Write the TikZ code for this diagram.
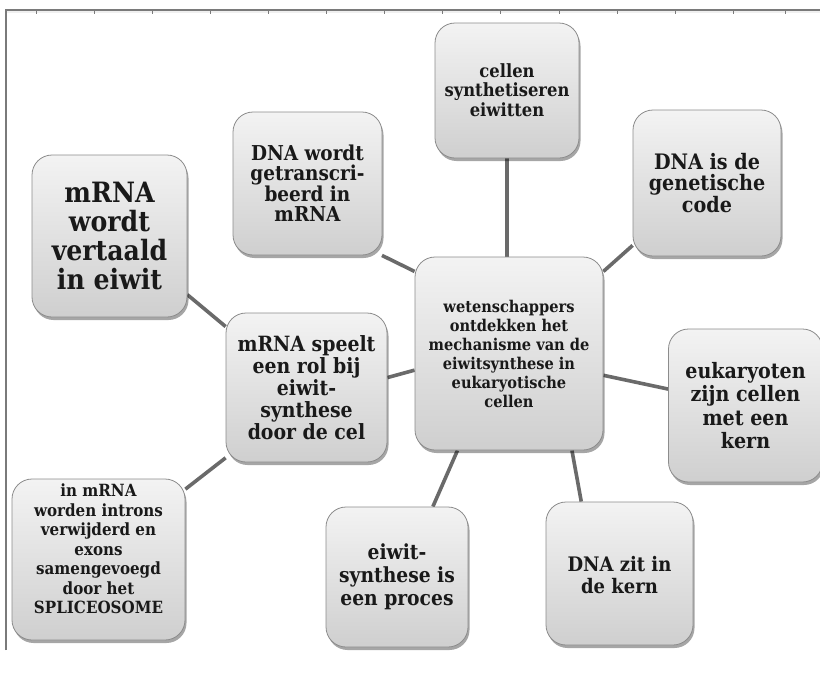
\documentclass[tikz,border=0pt]{standalone}
\usepackage{fontspec}
\setmainfont{DejaVu Serif Condensed}
\usetikzlibrary{shadows,backgrounds}
\definecolor{linegray}{HTML}{6A6A6A}
\definecolor{framegray}{HTML}{7A7A7A}
\definecolor{boxtop}{HTML}{F3F3F3}
\definecolor{boxbot}{HTML}{CFCFCF}
\definecolor{boxedge}{HTML}{8C8C8C}
\newcommand{\fs}[2]{\bfseries\fontsize{#1}{#2}\selectfont}
\newcommand{\shiftedtext}[2]{\raisebox{#1}[\height][\depth]{\begin{tabular}{@{}c@{}}#2\end{tabular}}}
\tikzset{
  bubble/.style={draw=boxedge, line width=0.8pt, rounded corners=20pt,
    top color=boxtop, bottom color=boxbot, align=center, inner sep=2pt,
    text=black!90,
    drop shadow={shadow xshift=1.5pt, shadow yshift=-3pt, opacity=0.35, fill=black}},
  conn/.style={draw=linegray, line width=3.6pt},
  tick/.style={draw=framegray, line width=0.8pt}
}
\begin{document}
\begin{tikzpicture}[x=1pt,y=-1pt]
\useasboundingbox (0,0) rectangle (820,673);
% nodes
\node[bubble, minimum width=188pt, minimum height=193pt, font=\fs{16.2}{19}] (c) at (509,353.5)
  {wetenschappers\\ontdekken het\\mechanisme van de\\eiwitsynthese in\\eukaryotische\\cellen};
\node[bubble, minimum width=144pt, minimum height=135pt, font=\fs{18.2}{18.5}] (cel) at (507,90.5)
  {\shiftedtext{-2pt}{cellen\\synthetiseren\\eiwitten}};
\node[bubble, minimum width=149pt, minimum height=143pt, font=\fs{20.5}{20}] (dnaw) at (307.5,183.5)
  {DNA wordt\\getranscri-\\beerd in\\mRNA};
\node[bubble, minimum width=148pt, minimum height=146pt, font=\fs{21.3}{21.7}] (dnais) at (707,183)
  {DNA is de\\genetische\\code};
\node[bubble, minimum width=155pt, minimum height=162pt, font=\fs{28}{29}] (mrnav) at (109.5,236)
  {mRNA\\wordt\\vertaald\\in eiwit};
\node[bubble, minimum width=161pt, minimum height=149pt, font=\fs{21}{22}] (sp) at (306.5,387.5)
  {mRNA speelt\\een rol bij\\eiwit-\\synthese\\door de cel};
\node[bubble, minimum width=154pt, minimum height=153pt, font=\fs{21.2}{23.5}] (euk) at (745.5,405.5)
  {eukaryoten\\zijn cellen\\met een\\kern};
\node[bubble, minimum width=173pt, minimum height=161pt, font=\fs{16.8}{19.5}] (intr) at (98.5,559.5)
  {\shiftedtext{8pt}{in mRNA\\worden introns\\verwijderd en\\exons\\samengevoegd\\door het\\SPLICEOSOME}};
\node[bubble, minimum width=142pt, minimum height=140pt, font=\fs{20.8}{23}] (eiw) at (397,577)
  {eiwit-\\synthese is\\een proces};
\node[bubble, minimum width=147pt, minimum height=143pt, font=\fs{20}{22}] (dnaz) at (619.5,573.5)
  {\shiftedtext{-5pt}{DNA zit in\\de kern}};
% background, frame and connectors
\begin{scope}[on background layer]
\fill[white] (0,0) rectangle (820,673);
\fill[black!6] (6,10) rectangle (820,13);
\draw[framegray, line width=1.6pt] (6,650) -- (6,10) -- (820,10);
\foreach \t in {36,94.1,152.2,210.3,268.4,326.5,384.6,442.7,500.8,558.9,617,675.1,733.2,785}
  \draw[tick] (\t,10) -- (\t,14);
\draw[conn] (cel.south) -- (cel.south |- c.north);
\draw[conn] (c.139) -- (dnaw.-44);
\draw[conn] (c.41) -- (dnais.-140);
\draw[conn] (c.-13) -- (euk.168);
\draw[conn] (c.-57) -- (dnaz.118);
\draw[conn] (c.-118) -- (eiw.63);
\draw[conn] (c.-170) -- (sp.7);
\draw[conn] (sp.143) -- (mrnav.-37);
\draw[conn] (sp.-139) -- (intr.39);
\end{scope}
\end{tikzpicture}
\end{document}
